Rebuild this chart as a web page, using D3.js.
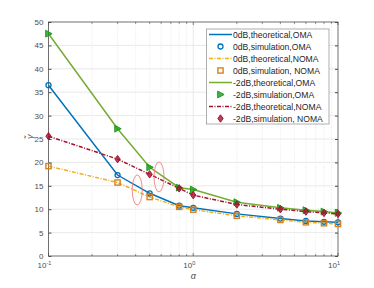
<!DOCTYPE html>
<html>
<head>
<meta charset="utf-8">
<script src="https://cdn.jsdelivr.net/npm/d3@7"></script>
<style>
  body { margin: 0; background: #fff; }
  text { font-family: "Liberation Sans", Arial, sans-serif; }
</style>
</head>
<body>
<div id="chart"></div>
<script>
var width = 374;
var height = 288;

// alpha values on the x axis
var alphas = [0.1, 0.3, 0.5, 0.8, 1, 2, 4, 6, 8, 10];

var oma0 = [36.5, 17.3, 13.4, 10.75, 10.3, 9.0, 8.0, 7.5, 7.3, 7.2];
var noma0 = [19.2, 15.7, 12.6, 10.5, 9.9, 8.6, 7.7, 7.2, 7.0, 6.85];
var oma2 = [47.5, 27.2, 18.95, 14.6, 14.2, 11.5, 10.3, 9.8, 9.5, 9.2];
var noma2 = [25.6, 20.7, 17.45, 14.45, 13.0, 11.0, 10.0, 9.5, 9.2, 9.0];

var yTicks = [0, 5, 10, 15, 20, 25, 30, 35, 40, 45, 50];
var xTicks = [0.1, 1, 10];
var xTickExp = ["-1", "0", "1"];

var legendLabels = [
    "0dB,theoretical,OMA",
    "0dB,simulation,OMA",
    "0dB,theoretical,NOMA",
    "0dB,simulation, NOMA",
    "-2dB,theoretical,OMA",
    "-2dB,simulation,OMA",
    "-2dB,theoretical,NOMA",
    "-2dB,simulation, NOMA"
];

// annotation ellipses (alpha, value)
var ellipses = [[0.41, 14.1], [0.58, 16.9]];

var pLeft = 48.5, pRight = 338, pTop = 22, pBottom = 256;

var x = d3.scaleLog().domain([0.1, 10]).range([pLeft, pRight]);
var y = d3.scaleLinear().domain([0, 50]).range([pBottom, pTop]);

var svg = d3.select("#chart").append("svg")
    .attr("width", width)
    .attr("height", height);

// grid
var minor = [];
[0.1, 1].forEach(function(b) {
    for (var k = 2; k <= 9; k++) minor.push(b * k);
});
svg.append("g").selectAll("line")
    .data(minor)
    .enter().append("line")
    .attr("x1", function(d) { return x(d); })
    .attr("x2", function(d) { return x(d); })
    .attr("y1", pTop).attr("y2", pBottom)
    .attr("stroke", "#dcdcdc")
    .attr("stroke-width", 0.6)
    .attr("stroke-dasharray", "1,1.5");

svg.append("g").selectAll("line")
    .data(yTicks.slice(1, -1))
    .enter().append("line")
    .attr("x1", pLeft).attr("x2", pRight)
    .attr("y1", function(d) { return y(d); })
    .attr("y2", function(d) { return y(d); })
    .attr("stroke", "#e3e3e3")
    .attr("stroke-width", 0.8);

svg.append("g").selectAll("line")
    .data([1])
    .enter().append("line")
    .attr("x1", function(d) { return x(d); })
    .attr("x2", function(d) { return x(d); })
    .attr("y1", pTop).attr("y2", pBottom)
    .attr("stroke", "#e3e3e3")
    .attr("stroke-width", 0.8);

// axes box
svg.append("rect")
    .attr("x", pLeft).attr("y", pTop)
    .attr("width", pRight - pLeft).attr("height", pBottom - pTop)
    .attr("fill", "none")
    .attr("stroke", "#4d4d4d")
    .attr("stroke-width", 0.8);

// inward ticks
var yAxisL = d3.axisLeft(y).tickValues(yTicks).tickSize(-3).tickPadding(5);
var gy = svg.append("g").attr("transform", "translate(" + pLeft + ",0)").call(yAxisL);
gy.select(".domain").remove();
gy.selectAll("line").attr("stroke", "#4d4d4d");
gy.selectAll("text").attr("fill", "#4d4d4d").style("font-size", "8px")
    .style("font-family", "'Liberation Sans', Arial, sans-serif");

var gyr = svg.append("g").attr("transform", "translate(" + pRight + ",0)")
    .call(d3.axisRight(y).tickValues(yTicks).tickSize(-3).tickFormat(""));
gyr.select(".domain").remove();
gyr.selectAll("line").attr("stroke", "#4d4d4d");

var allX = xTicks.concat(minor);
[pBottom, pTop].forEach(function(yy, i) {
    svg.append("g").selectAll("line")
        .data(allX)
        .enter().append("line")
        .attr("x1", function(d) { return x(d); })
        .attr("x2", function(d) { return x(d); })
        .attr("y1", yy)
        .attr("y2", function(d) {
            var len = xTicks.indexOf(d) >= 0 ? 3 : 1.8;
            return i == 0 ? yy - len : yy + len;
        })
        .attr("stroke", "#4d4d4d")
        .attr("stroke-width", 0.7);
});

// x tick labels 10^n
var xl = svg.append("g").selectAll("text")
    .data(xTicks)
    .enter().append("text")
    .attr("x", function(d) { return x(d) - 4; })
    .attr("y", 268)
    .attr("fill", "#4d4d4d")
    .style("font-size", "8px")
    .attr("text-anchor", "middle");
xl.append("tspan").text("10");
xl.append("tspan")
    .attr("dy", -3.5)
    .style("font-size", "5.5px")
    .text(function(d, i) { return xTickExp[i]; });

svg.append("text")
    .attr("x", x(1))
    .attr("y", 279)
    .attr("text-anchor", "middle")
    .attr("fill", "#4d4d4d")
    .style("font-size", "9px")
    .style("font-style", "italic")
    .text("α");

svg.append("text")
    .attr("transform", "translate(33," + y(25.5) + ") rotate(-90)")
    .attr("text-anchor", "middle")
    .attr("fill", "#4d4d4d")
    .style("font-size", "9px")
    .style("font-style", "italic")
    .text("γ̃");

// series
var series = [
    { vals: oma0, color: "#0072BD", dash: null, mk: "circle", mc: "#0072BD" },
    { vals: noma0, color: "#EDB120", dash: "4,1.5,1,1.5", mk: "square", mc: "#D9801E" },
    { vals: oma2, color: "#77AC30", dash: null, mk: "tri", mc: "#1E9B1E" },
    { vals: noma2, color: "#A2142F", dash: "4,1.5,1,1.5", mk: "diamond", mc: "#A2142F" }
];

var line = d3.line()
    .x(function(d) { return x(d[0]); })
    .y(function(d) { return y(d[1]); });

function drawMarker(g, type, color, cx, cy) {
    if (type == "circle") {
        g.append("circle").attr("cx", cx).attr("cy", cy).attr("r", 2.5)
            .attr("fill", "none").attr("stroke", color).attr("stroke-width", 1.3);
    } else if (type == "square") {
        g.append("rect").attr("x", cx - 2.6).attr("y", cy - 2.6).attr("width", 5.2).attr("height", 5.2)
            .attr("fill", "none").attr("stroke", color).attr("stroke-width", 1.4);
    } else if (type == "tri") {
        g.append("path")
            .attr("d", "M" + (cx - 2.8) + "," + (cy - 3.4) + "L" + (cx + 3.6) + "," + cy + "L" + (cx - 2.8) + "," + (cy + 3.4) + "Z")
            .attr("fill", color).attr("fill-opacity", 0.8).attr("stroke", color).attr("stroke-width", 1);
    } else {
        g.append("path")
            .attr("d", "M" + cx + "," + (cy - 3.7) + "L" + (cx + 2.6) + "," + cy + "L" + cx + "," + (cy + 3.7) + "L" + (cx - 2.6) + "," + cy + "Z")
            .attr("fill", color).attr("fill-opacity", 0.8).attr("stroke", color).attr("stroke-width", 1);
    }
}

series.forEach(function(s) {
    var pts = alphas.map(function(a, i) { return [a, s.vals[i]]; });
    svg.append("path")
        .datum(pts)
        .attr("d", line)
        .attr("fill", "none")
        .attr("stroke", s.color)
        .attr("stroke-width", 1.5)
        .attr("stroke-dasharray", s.dash);
});
series.forEach(function(s) {
    var g = svg.append("g");
    alphas.forEach(function(a, i) {
        drawMarker(g, s.mk, s.mc, x(a), y(s.vals[i]));
    });
});

// annotation ellipses
svg.append("g").selectAll("ellipse")
    .data(ellipses)
    .enter().append("ellipse")
    .attr("cx", function(d) { return x(d[0]); })
    .attr("cy", function(d) { return y(d[1]); })
    .attr("rx", 5)
    .attr("ry", 15)
    .attr("fill", "none")
    .attr("stroke", "#f07070")
    .attr("stroke-width", 0.8);

// legend
var lg = svg.append("g");
lg.append("rect")
    .attr("x", 206.5).attr("y", 29)
    .attr("width", 122.5).attr("height", 95)
    .attr("fill", "#fff")
    .attr("stroke", "#8c8c8c")
    .attr("stroke-width", 0.7);

legendLabels.forEach(function(lbl, i) {
    var s = series[Math.floor(i / 2)];
    var ly = 34.5 + i * 12;
    if (i % 2 == 0) {
        lg.append("line")
            .attr("x1", 209).attr("x2", 232)
            .attr("y1", ly).attr("y2", ly)
            .attr("stroke", s.color)
            .attr("stroke-width", 1.5)
            .attr("stroke-dasharray", s.dash);
    } else {
        drawMarker(lg, s.mk, s.mc, 220.5, ly);
    }
    lg.append("text")
        .attr("x", 233)
        .attr("y", ly + 3)
        .attr("fill", "#262626")
        .style("font-size", "8.6px")
        .text(lbl);
});
</script>
</body>
</html>
